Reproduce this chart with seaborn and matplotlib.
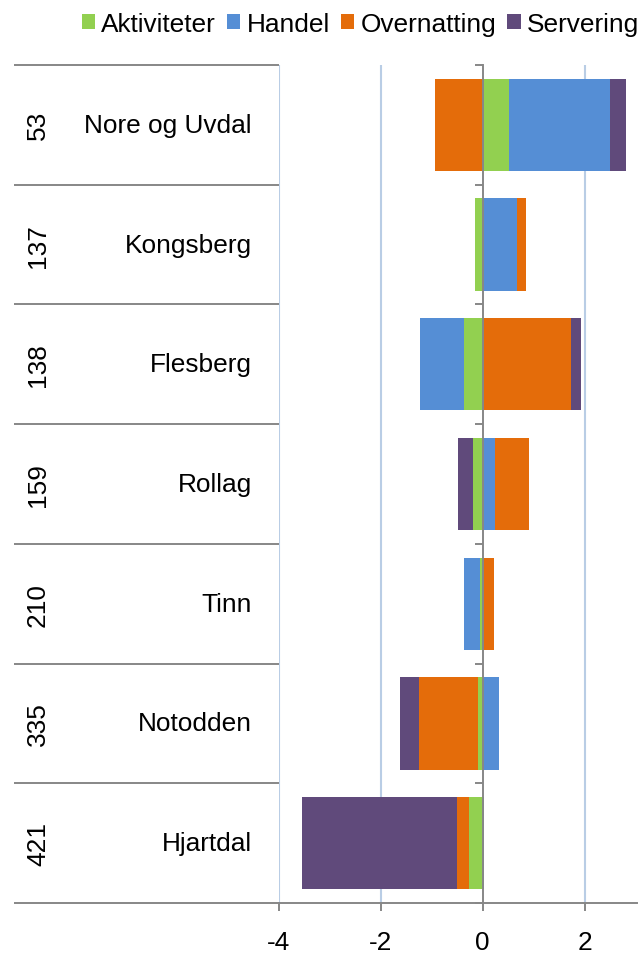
import numpy as np
import pandas as pd
import matplotlib
matplotlib.use('Agg')
import matplotlib.pyplot as plt
from matplotlib.patches import Patch
import seaborn as sns

# Data
regions = ['Nore og Uvdal', 'Kongsberg', 'Flesberg', 'Rollag', 'Tinn', 'Notodden', 'Hjartdal']
ranks = ['53', '137', '138', '159', '210', '335', '421']
series = ['Aktiviteter', 'Handel', 'Overnatting', 'Servering']
aktiviteter = [0.51, -0.15, -0.37, -0.20, -0.05, -0.10, -0.26]
handel = [1.98, 0.67, -0.87, 0.24, -0.32, 0.32, 0.03]
overnatting = [-0.94, 0.18, 1.74, 0.66, 0.22, -1.15, -0.24]
servering = [0.33, -0.01, 0.20, -0.28, 0.01, -0.37, -3.05]
colors = ['#92D050', '#558ED5', '#E46C0A', '#604A7B']

df = pd.DataFrame({'Aktiviteter': aktiviteter, 'Handel': handel,
                   'Overnatting': overnatting, 'Servering': servering},
                  index=regions)

sns.set_style('white')
plt.rcParams['font.family'] = ['Liberation Sans', 'DejaVu Sans']
plt.rcParams['text.color'] = 'black'
plt.rcParams['xtick.labelcolor'] = 'black'
FS = 18.9
GRAY = '#878787'
GRID = '#B9CDE5'

fig = plt.figure(figsize=(6.42, 9.54), dpi=100)
ax = fig.add_axes([279 / 642, 1 - 904 / 954, 358 / 642, 838 / 954])

# Excel-style diverging stack: positives stack right, negatives stack left.
# Draw cumulative ends from last series to first so earlier ones sit on top.
pos = df.clip(lower=0).cumsum(axis=1)
neg = df.clip(upper=0).cumsum(axis=1)
for s, c in reversed(list(zip(series, colors))):
    for cum in (pos, neg):
        d = pd.DataFrame({'region': regions, 'value': cum[s].values})
        sns.barplot(data=d, x='value', y='region', order=regions, orient='h',
                    color=c, saturation=1, width=0.77, errorbar=None,
                    linewidth=0, ax=ax)

ax.set_xlim(-4, 3.03)
ax.set_ylim(6.5, -0.5)
ax.set_xlabel('')
ax.set_ylabel('')

# gridlines
for gx in [-4, -2, 2]:
    ax.axvline(gx, color=GRID, lw=1.5, zorder=0)

# spines: zero line acts as category axis
for sp in ['top', 'right']:
    ax.spines[sp].set_visible(False)
ax.spines['left'].set_position(('data', 0))
ax.spines['left'].set_color(GRAY)
ax.spines['left'].set_linewidth(1.4)
ax.spines['left'].set_zorder(5)
ax.spines['bottom'].set_color(GRAY)
ax.spines['bottom'].set_linewidth(1.4)

ax.set_yticks(np.arange(-0.5, 7, 1))
ax.set_yticklabels([])
ax.tick_params(axis='y', direction='out', length=5.5, width=1.4, color=GRAY, left=True)
ax.set_xticks([-4, -2, 0, 2])
ax.set_xticklabels(['-4', '-2', '0', '2'])
ax.tick_params(axis='x', direction='out', length=5.5, width=1.4, color=GRAY,
               bottom=True, labelsize=FS, pad=14, labelcolor='black')

# table on the left: separators, rank and name labels
ytr = ax.get_yaxis_transform()
x_left = (14 - 279) / 358
for i in range(len(regions) + 1):
    yb = i - 0.5
    ax.plot([x_left, 0], [yb, yb], transform=ytr, color=GRAY, lw=1.4,
            clip_on=False, solid_capstyle='butt')
for i, (r, n) in enumerate(zip(regions, ranks)):
    ax.text((252 - 279) / 358, i, r, transform=ytr, ha='right', va='center',
            fontsize=FS, color='black')
    ax.text((38 - 279) / 358, i, n, transform=ytr, ha='center', va='center',
            rotation=90, fontsize=FS, color='black')

handles = [Patch(facecolor=c, edgecolor='none', label=s) for s, c in zip(series, colors)]
fig.legend(handles=handles, loc='upper right', bbox_to_anchor=(1.0, 1 - 10 / 954),
           ncol=4, frameon=False, fontsize=FS, handlelength=0.5, handleheight=0.5,
           handletextpad=0.25, columnspacing=0.42, borderaxespad=0.0, borderpad=0.1)

fig.savefig('out.png', dpi=100)
